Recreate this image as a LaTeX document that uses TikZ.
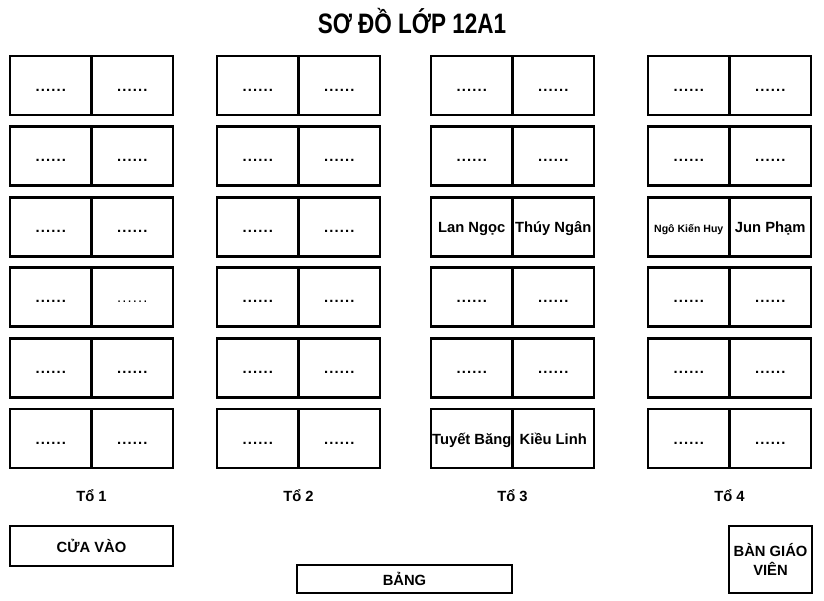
\documentclass[tikz,border=0pt]{standalone}
\usepackage{fontspec}
\setmainfont{Liberation Sans}
\newfontfamily\titlefont{Liberation Sans}[FakeStretch=0.8]
\usetikzlibrary{positioning}

% names of the seats that are filled in
\newcommand{\dotrow}{.\kern0.8pt.\kern0.8pt.\kern0.8pt.\kern0.8pt.\kern0.8pt.}
\expandafter\def\csname seat-3-3-a\endcsname{Lan Ngọc}
\expandafter\def\csname seat-3-3-b\endcsname{Thúy Ngân}
\expandafter\def\csname seat-4-3-a\endcsname{\fontsize{7.5}{9}\selectfont Ngô Kiến Huy}
\expandafter\def\csname seat-4-3-b\endcsname{Jun Phạm}
\expandafter\def\csname seat-3-6-a\endcsname{Tuyết Băng}
\expandafter\def\csname seat-3-6-b\endcsname{Kiều Linh}
\expandafter\def\csname seat-1-4-b\endcsname{\mdseries\dotrow}
\newcommand{\seattext}[3]{\ifcsname seat-#1-#2-#3\endcsname\csname seat-#1-#2-#3\endcsname\else\dotrow\fi}

\tikzset{
  seat/.style={draw, line width=2pt, rectangle, inner sep=0pt, outer sep=0pt,
    minimum width={81.5*0.025cm}, minimum height={59*0.025cm},
    text height=9pt, text depth=1pt,
    font=\bfseries\fontsize{10.5}{12}\selectfont},
  room/.style={draw, line width=2pt, rectangle, inner sep=0pt, outer sep=0pt,
    font=\bfseries\fontsize{10.5}{13}\selectfont, align=center},
  grouplabel/.style={font=\bfseries\fontsize{10.5}{12}\selectfont}
}

\begin{document}
\begin{tikzpicture}[x=0.025cm, y=-0.025cm]
    \useasboundingbox (0,0) rectangle (824,600);

    % Title
    \node[font=\titlefont\bfseries\fontsize{20}{24}\selectfont] (title) at (412,21) {SƠ ĐỒ LỚP 12A1};

    % Desks: 4 groups, 6 rows, 2 seats each
    \foreach \g/\gx in {1/10, 2/217, 3/431, 4/648} {
      \foreach \r in {1,...,6} {
        \node[seat] (s\g\r a) at ({\gx+40.75}, {85.5+70.6*(\r-1)}) {\seattext{\g}{\r}{a}};
        \node[seat] (s\g\r b) at ({\gx+122.25}, {85.5+70.6*(\r-1)}) {\seattext{\g}{\r}{b}};
      }
      \node[grouplabel] (to\g) at ({\gx+81.5}, 496) {Tổ \g};
    }

    % Door, board, teacher's desk
    \node[room, minimum width={163*0.025cm}, minimum height={40*0.025cm}] (door) at (91.5,546) {CỬA VÀO};
    \node[room, minimum width={215*0.025cm}, minimum height={28*0.025cm}] (board) at (404.5,579) {BẢNG};
    \node[room, minimum width={83*0.025cm}, minimum height={67*0.025cm}] (teacher) at (770.5,559.5) {BÀN GIÁO\\VIÊN};
\end{tikzpicture}
\end{document}
